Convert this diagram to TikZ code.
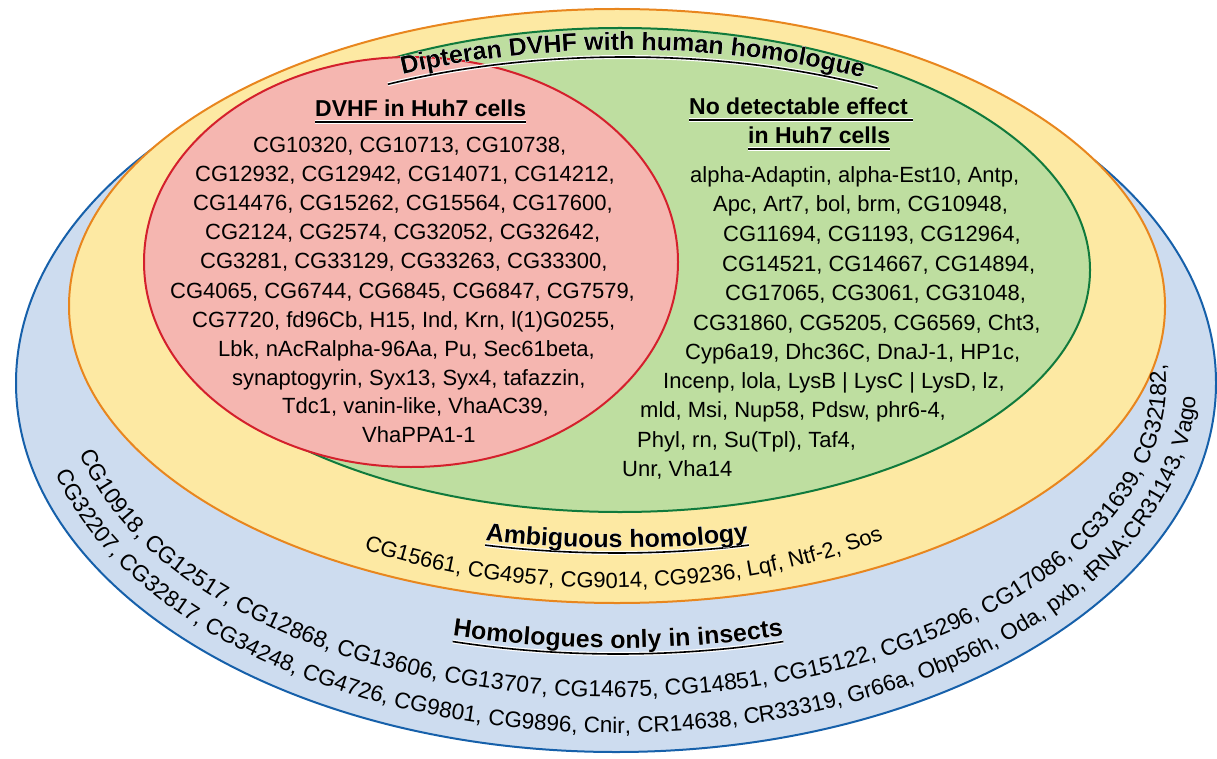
\documentclass[tikz,border=0pt]{standalone}
\usepackage{fontspec}
\setmainfont{Liberation Sans}
\usetikzlibrary{decorations.text}
\definecolor{setblue}{RGB}{205,220,239}
\definecolor{lineblue}{RGB}{22,96,170}
\definecolor{setyellow}{RGB}{253,233,163}
\definecolor{lineorange}{RGB}{232,134,30}
\definecolor{setgreen}{RGB}{190,222,160}
\definecolor{linegreen}{RGB}{16,122,60}
\definecolor{setred}{RGB}{245,182,176}
\definecolor{linered}{RGB}{212,32,44}
\newcommand\genefont{\fontsize{22}{22}\selectfont}
\newcommand\headfont{\bfseries\fontsize{23}{23}\selectfont}
\newcommand\titlefont{\bfseries\fontsize{25}{25}\selectfont}
\begin{document}
\begin{tikzpicture}[x=1pt,y=1pt,
  blueset/.style={fill=setblue,draw=lineblue,line width=2pt},
  yellowset/.style={fill=setyellow,draw=lineorange,line width=2pt},
  greenset/.style={fill=setgreen,draw=linegreen,line width=2pt},
  redset/.style={fill=setred,draw=linered,line width=2pt},
  genes/.style={font=\genefont,inner sep=0,anchor=base west},
  heading/.style={font=\headfont,inner sep=0,anchor=base west},
  uline/.style={line width=1.6pt,preaction={draw=white,line width=4pt}},
  arctext/.style={decorate,decoration={text along path,text={#1}}},
  archead/.style={decorate,decoration={text along path,text align=center,text={#1}}}]
\path[use as bounding box] (0,0) rectangle (1217,-759);
\coordinate (outer) at (616,-383);
\coordinate (middle) at (617,-306);
\coordinate (inner) at (620,-270);
\coordinate (huh) at (411,-262);
\coordinate (top) at (625,-290);
\coordinate (amb) at (610,-288);
\coordinate (ambhead) at (617,-232);
\coordinate (ins) at (618,-332);
\draw[blueset] (outer) ellipse [x radius=600,y radius=369];
\draw[yellowset] (middle) ellipse [x radius=548,y radius=297];
\draw[greenset] (inner) ellipse [x radius=470,y radius=242];
\draw[redset] (huh) ellipse [x radius=267,y radius=205];

\draw[uline] ([shift={(118:505 and 233)}]top) arc[start angle=118,end angle=60,x radius=505,y radius=233];
\draw[uline] ([shift={(257.3:600 and 321)}]ambhead) arc[start angle=257.3,end angle=282.7,x radius=600,y radius=321];
\draw[uline] ([shift={(254:600 and 322)}]ins) arc[start angle=254,end angle=286,x radius=600,y radius=322];
\foreach \dx/\dy/\col in {-1.6/0/white,1.6/0/white,0/-1.6/white,0/1.6/white,-1.1/-1.1/white,1.1/1.1/white,-1.1/1.1/white,1.1/-1.1/white,0/0/black}
{
    \path[archead={|\titlefont|Dipteran DVHF with human homologue},decoration={text color=\col},xshift=\dx,yshift=\dy]
      ([shift={(120:505 and 240)}]top) arc[start angle=120,end angle=58,x radius=505,y radius=240];
    \path[archead={|\titlefont|Ambiguous homology},decoration={text color=\col},xshift=\dx,yshift=\dy]
      ([shift={(250:600 and 316)}]ambhead) arc[start angle=250,end angle=290,x radius=600,y radius=316];
    \path[archead={|\titlefont|Homologues only in insects},decoration={text color=\col},xshift=\dx,yshift=\dy]
      ([shift={(250:600 and 316)}]ins) arc[start angle=250,end angle=290,x radius=600,y radius=316];
}

\node[heading] (redhead) at (315,-117) {DVHF in Huh7 cells};
\draw[uline] ([yshift=-5pt]redhead.base west) -- ([yshift=-5pt]redhead.base east);
\node[heading] (greenhead1) at (689,-115) {No detectable effect};
\draw[uline] ([yshift=-5pt]greenhead1.base west) -- ([xshift=5pt,yshift=-5pt]greenhead1.base east);
\node[heading] (greenhead2) at (748,-144) {in Huh7 cells};
\draw[uline] ([yshift=-5pt]greenhead2.base west) -- ([yshift=-5pt]greenhead2.base east);

\foreach \y/\x/\xtext [count=\i] in {153/253/{CG10320, CG10713, CG10738,},
  182/195/{CG12932, CG12942, CG14071, CG14212,},
  211/193/{CG14476, CG15262, CG15564, CG17600,},
  240/205/{CG2124, CG2574, CG32052, CG32642,},
  269/200/{CG3281, CG33129, CG33263, CG33300,},
  298/170/{CG4065, CG6744, CG6845, CG6847, CG7579,},
  327/192/{CG7720, fd96Cb, H15, Ind, Krn, l(1)G0255,},
  356/218/{Lbk, nAcRalpha-96Aa, Pu, Sec61beta,},
  385/232/{synaptogyrin, Syx13, Syx4, tafazzin,},
  413/282/{Tdc1, vanin-like, VhaAC39,},
  442/362/{VhaPPA1-1}}
{
    \node[genes] (red\i) at (\x,-\y) {\xtext};
}
\foreach \y/\x/\xtext [count=\i] in {183/690/{alpha-Adaptin, alpha-Est10, Antp,},
  212/713/{Apc, Art7, bol, brm, CG10948,},
  242/723/{CG11694, CG1193, CG12964,},
  271/722/{CG14521, CG14667, CG14894,},
  300/725/{CG17065, CG3061, CG31048,},
  330/693/{CG31860, CG5205, CG6569, Cht3,},
  359/685/{Cyp6a19, Dhc36C, DnaJ-1, HP1c,},
  388/663/{Incenp, lola, LysB | LysC | LysD, lz,},
  417/640/{mld, Msi, Nup58, Pdsw, phr6-4,},
  447/637/{Phyl, rn, Su(Tpl), Taf4,},
  476/622/{Unr, Vha14}}
{
    \node[genes] (green\i) at (\x,-\y) {\xtext};
}

\path[arctext={|\genefont|CG15661, CG4957, CG9014, CG9236, Lqf, Ntf-2, Sos}]
  ([shift={(240.5:500 and 300)}]amb) arc[start angle=240.5,end angle=315,x radius=500,y radius=300];
\path[arctext={|\fontsize{23}{23}\selectfont|CG10918, CG12517, CG12868, CG13606, CG13707, CG14675, CG14851, CG15122, CG15296, CG17086, CG31639, CG32182,}]
  ([shift={(193:550 and 314)}]outer) arc[start angle=193,end angle=372,x radius=550,y radius=314];
\path[arctext={|\fontsize{22.5}{22.5}\selectfont|CG32207, CG32817, CG34248, CG4726, CG9801, CG9896, Cnir, CR14638, CR33319, Gr66a, Obp56h, Oda, pxb, tRNA:CR31143, Vago}]
  ([shift={(195:580 and 350)}]outer) arc[start angle=195,end angle=372,x radius=580,y radius=350];
\end{tikzpicture}
\end{document}
